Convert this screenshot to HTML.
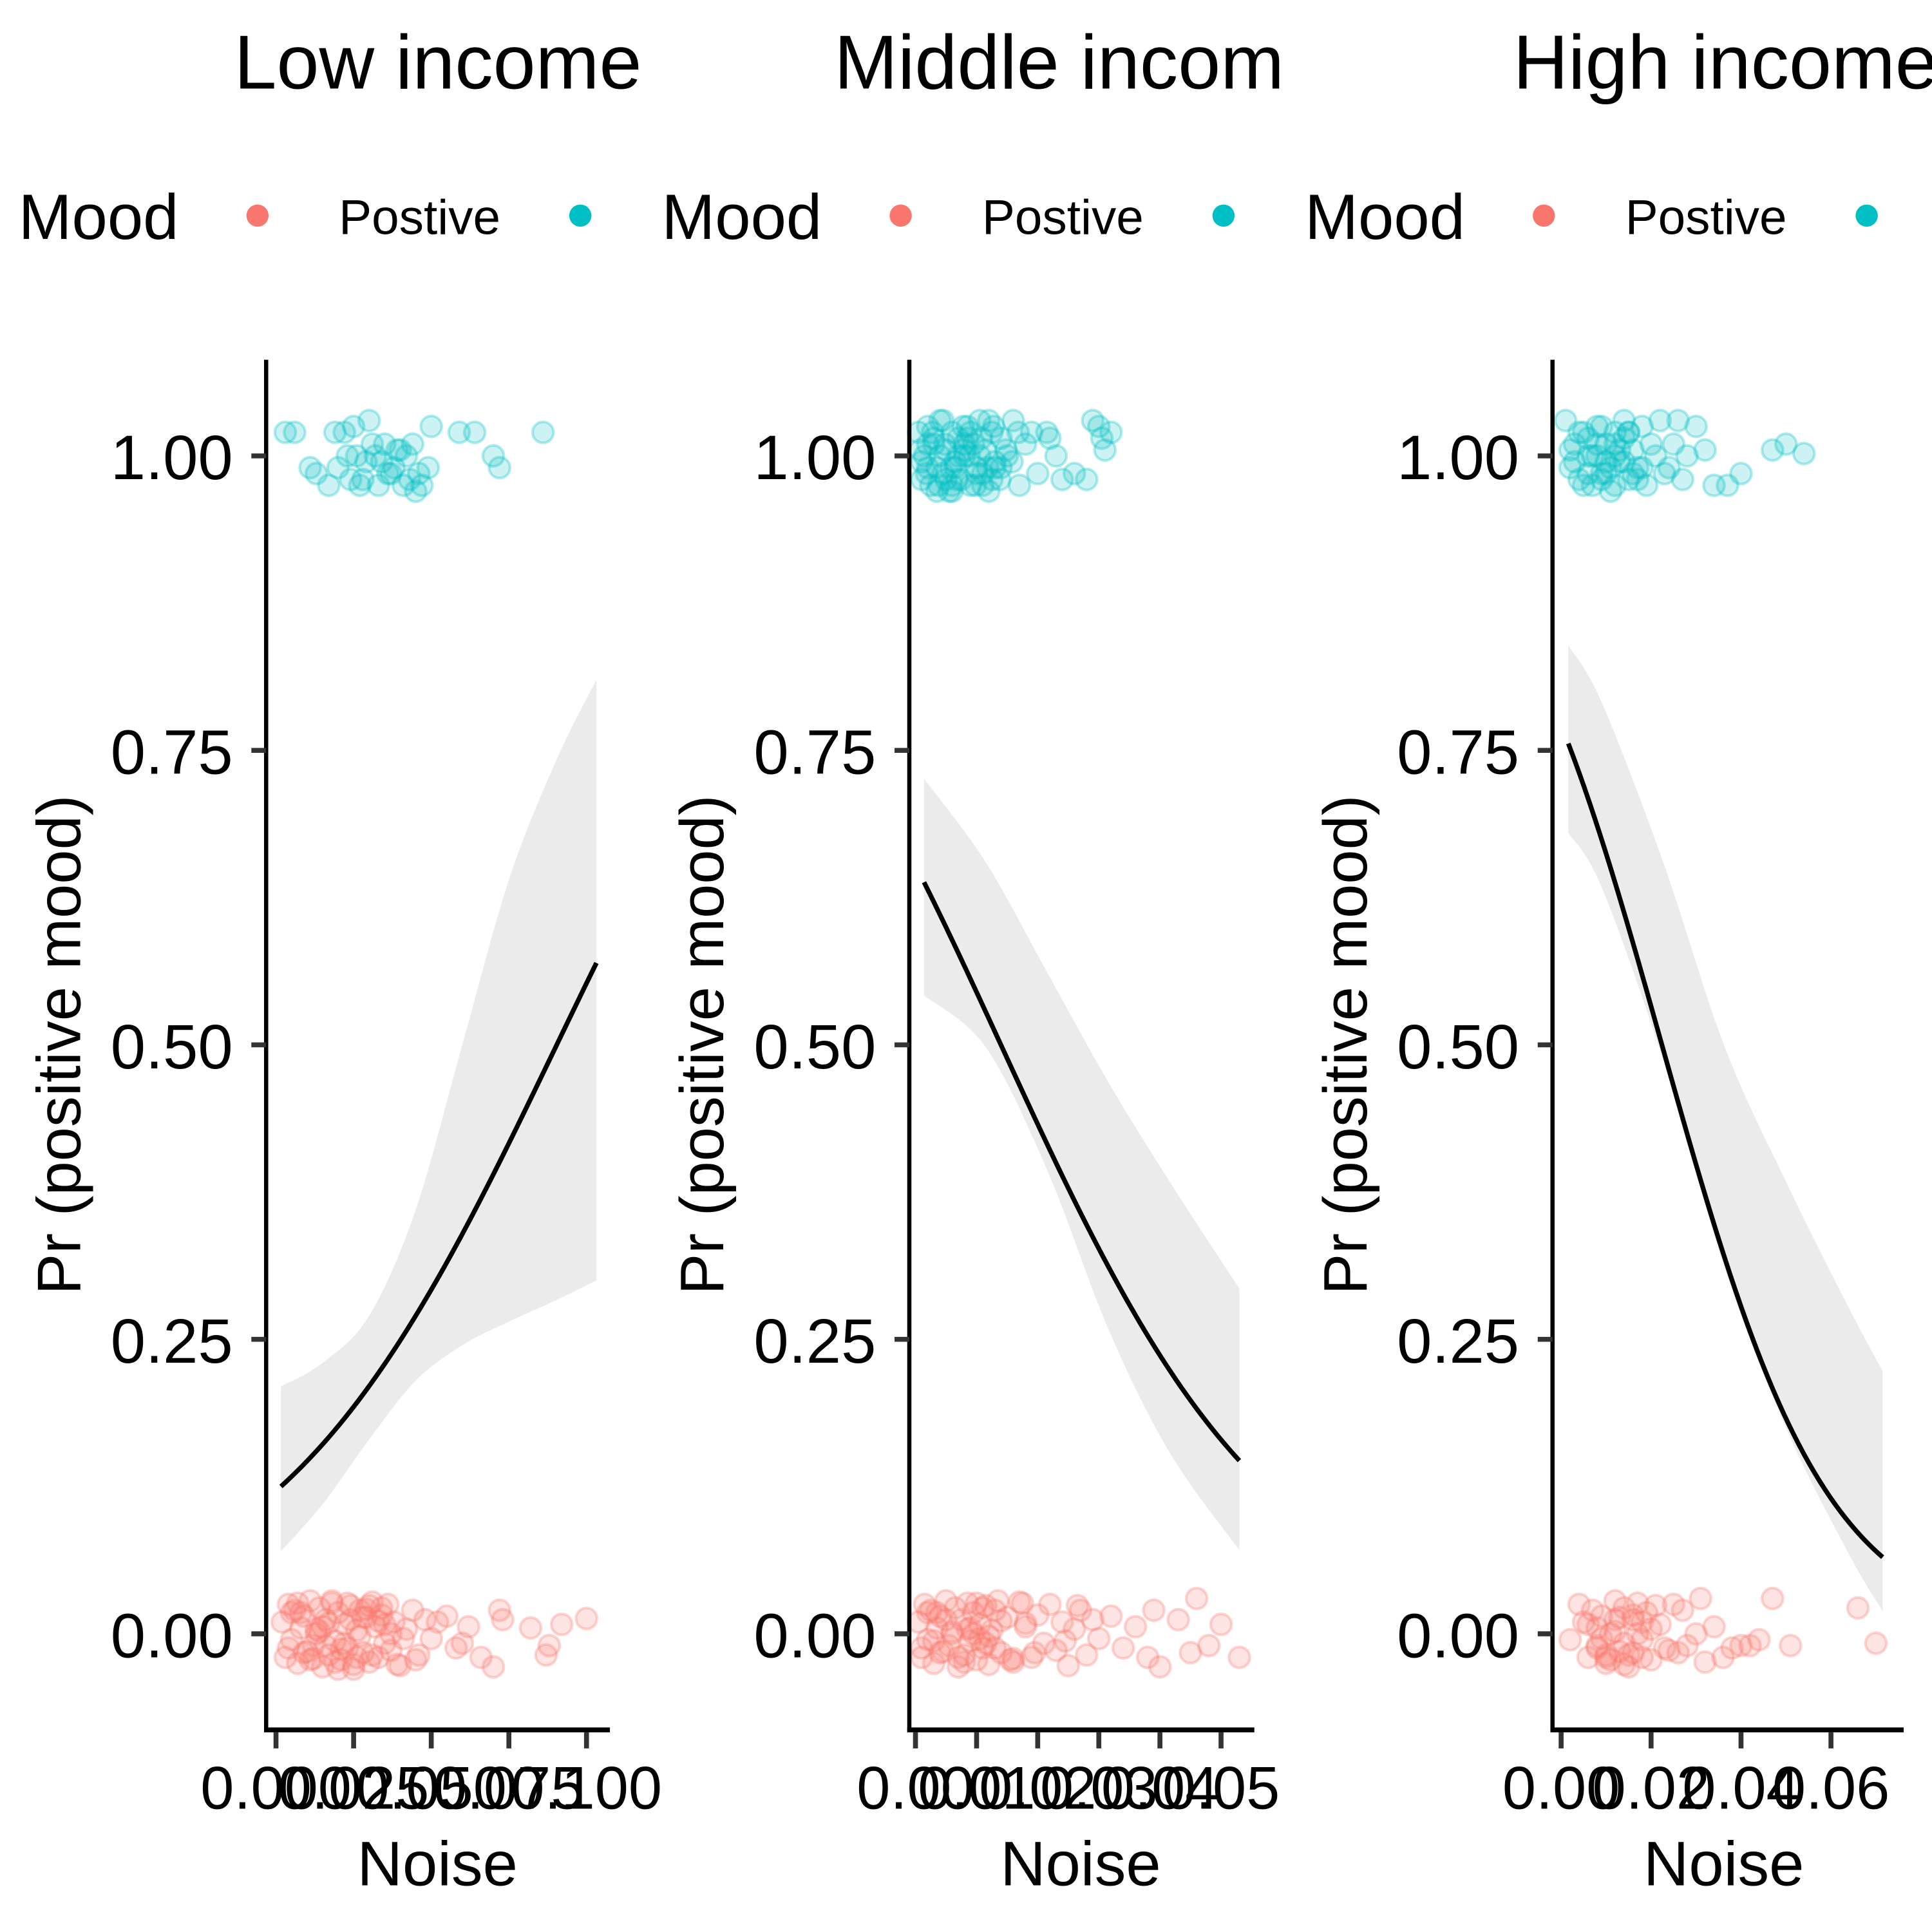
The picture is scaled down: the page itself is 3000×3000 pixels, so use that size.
<!DOCTYPE html>
<html><head><meta charset="utf-8">
<style>
html,body{margin:0;padding:0;background:#fff;}
svg{display:block;}
text{font-family:"Liberation Sans",Arial,sans-serif;}
</style></head>
<body>
<svg id="chart" width="3000" height="3000" viewBox="0 0 1568 1568" xmlns="http://www.w3.org/2000/svg"></svg>
<script>
// ---- data ----
const panelTitles = ["Low income", "Middle incom", "High income"];
const yTicks = [0, 0.25, 0.5, 0.75, 1.0];
const yTickLabels = ["0.00", "0.25", "0.50", "0.75", "1.00"];
const p1XTicks = [0, 0.025, 0.05, 0.075, 0.1];
const p1XTickLabels = ["0.000", "0.025", "0.050", "0.075", "0.100"];
const p2XTicks = [0, 0.01, 0.02, 0.03, 0.04, 0.05];
const p2XTickLabels = ["0.00", "0.01", "0.02", "0.03", "0.04", "0.05"];
const p3XTicks = [0, 0.02, 0.04, 0.06];
const p3XTickLabels = ["0.00", "0.02", "0.04", "0.06"];

// fitted logistic coefficients (intercept, slope) and range
const fitIntercept = [-1.98, 0.63, 1.217];
const fitSlope = [21.9, -45.06, -54.3];
const fitXMin = [0.0016, 0.0014, 0.0016];
const fitXMax = [0.1032, 0.053, 0.0715];

// confidence ribbons
const p1RibX = [0.0016, 0.015, 0.03, 0.045, 0.06, 0.075, 0.09, 0.1032];
const p1RibHi = [0.21, 0.23, 0.27, 0.36, 0.5, 0.64, 0.74, 0.81];
const p1RibLo = [0.07, 0.11, 0.165, 0.215, 0.245, 0.265, 0.283, 0.30];
const p2RibX = [0.0014, 0.0115, 0.0216, 0.0317, 0.0417, 0.053];
const p2RibHi = [0.726, 0.655, 0.561, 0.467, 0.383, 0.293];
const p2RibLo = [0.542, 0.498, 0.393, 0.257, 0.153, 0.071];
const p3RibX = [0.0016, 0.009, 0.0227, 0.0364, 0.0501, 0.0638, 0.0715];
const p3RibHi = [0.839, 0.791, 0.655, 0.498, 0.383, 0.278, 0.223];
const p3RibLo = [0.68, 0.634, 0.487, 0.31, 0.174, 0.069, 0.019];

// jittered points
const p1CyanX = [0.003,0.006,0.011,0.013,0.017,0.02,0.022,0.024,0.025,0.027,0.029,0.03,0.032,0.033,0.035,0.036,0.038,0.039,0.041,0.042,0.044,0.046,0.047,0.049,0.05,0.059,0.064,0.07,0.072,0.086,0.019,0.023,0.028,0.031,0.034,0.037,0.04,0.043,0.045,0.026];
const p1CyanY = [1.02,1.02,0.99,0.985,0.975,0.99,1.02,0.98,1.025,0.975,0.995,1.03,1.0,0.975,1.01,0.985,0.99,1.005,0.975,1.0,1.01,0.985,0.975,0.99,1.025,1.02,1.02,1.0,0.99,1.02,1.02,1.0,0.98,1.01,0.995,0.985,1.005,0.98,0.97,1.0];
const p1RedX = [0.002,0.003,0.004,0.005,0.006,0.007,0.008,0.009,0.01,0.011,0.012,0.013,0.014,0.015,0.016,0.017,0.018,0.019,0.02,0.021,0.022,0.023,0.024,0.025,0.026,0.027,0.028,0.029,0.03,0.031,0.032,0.033,0.034,0.035,0.036,0.037,0.038,0.04,0.042,0.044,0.046,0.048,0.05,0.055,0.058,0.062,0.066,0.07,0.073,0.082,0.088,0.092,0.1,0.005,0.009,0.014,0.019,0.023,0.027,0.033,0.012,0.017,0.021,0.029,0.004,0.008,0.011,0.015,0.018,0.022,0.025,0.028,0.031,0.034,0.037,0.039,0.007,0.013,0.016,0.02,0.024,0.026,0.03,0.035,0.041,0.045,0.052,0.06,0.072,0.087];
const p1RedY = [0.01,-0.02,0.025,-0.005,0.02,-0.025,0.005,0.015,-0.015,0.028,-0.01,0.0,0.022,-0.028,0.012,-0.018,0.026,-0.006,0.018,-0.022,0.008,-0.012,0.024,-0.026,0.003,0.02,-0.016,0.014,-0.024,0.027,0.006,-0.02,0.016,-0.008,0.025,-0.014,0.01,-0.027,0.004,0.02,-0.018,0.012,-0.004,0.015,-0.012,0.006,-0.02,-0.028,0.012,0.005,-0.01,0.008,0.013,0.018,-0.016,0.002,-0.024,0.026,-0.002,0.011,-0.021,0.009,-0.013,0.021,-0.012,0.018,-0.022,0.006,0.028,-0.008,-0.03,0.014,-0.018,0.022,0.0,-0.026,0.026,0.004,-0.01,-0.03,0.012,-0.02,0.024,0.008,-0.004,-0.022,0.01,-0.008,0.02,-0.018];

const p2CyanX = [0.0005,0.001,0.0015,0.002,0.0025,0.003,0.0035,0.004,0.0045,0.005,0.0055,0.006,0.0065,0.007,0.0075,0.008,0.0085,0.009,0.0095,0.01,0.0105,0.011,0.0115,0.012,0.0125,0.013,0.014,0.015,0.016,0.017,0.018,0.019,0.02,0.022,0.024,0.026,0.028,0.03,0.031,0.032,0.001,0.003,0.005,0.007,0.009,0.011,0.013,0.002,0.006,0.008,0.0008,0.0018,0.0028,0.0038,0.0048,0.0058,0.0068,0.0078,0.0088,0.0098,0.0108,0.0118,0.0128,0.0138,0.0148,0.0158,0.0168,0.004,0.006,0.008,0.01,0.012,0.014,0.002,0.0045,0.0065,0.0085,0.0105,0.0125,0.0035,0.0215,0.023,0.0305,0.029];
const p2CyanY = [1.02,0.98,1.0,1.025,0.975,1.01,0.99,1.03,0.985,1.005,0.97,1.02,0.995,1.015,0.98,1.0,1.025,0.975,1.01,0.99,1.03,0.985,1.005,0.97,1.02,0.995,1.015,1.0,1.03,0.975,1.01,1.02,0.985,1.015,0.98,0.985,0.98,1.025,1.005,1.02,0.995,1.015,0.98,1.0,1.02,0.975,0.99,1.01,0.97,1.005,1.005,0.985,1.02,0.975,1.01,0.99,0.98,1.025,1.0,0.975,1.015,0.99,1.025,0.98,1.005,0.995,1.02,1.0,0.975,1.01,0.985,1.03,0.99,0.99,1.03,0.99,1.015,1.0,0.98,0.97,1.02,1.0,1.015,1.03];
const p2RedX = [0.0005,0.001,0.0015,0.002,0.0025,0.003,0.0035,0.004,0.0045,0.005,0.0055,0.006,0.0065,0.007,0.0075,0.008,0.0085,0.009,0.0095,0.01,0.0105,0.011,0.0115,0.012,0.0125,0.013,0.014,0.015,0.016,0.017,0.018,0.019,0.02,0.021,0.022,0.023,0.024,0.025,0.026,0.027,0.028,0.029,0.03,0.032,0.034,0.036,0.038,0.04,0.043,0.046,0.048,0.05,0.053,0.002,0.004,0.006,0.008,0.01,0.012,0.014,0.016,0.018,0.003,0.005,0.007,0.009,0.011,0.013,0.0095,0.0105,0.0085,0.0115,0.001,0.0035,0.0135,0.0155,0.0175,0.0195,0.0245,0.0265,0.039,0.045];
const p2RedY = [0.01,-0.02,0.025,-0.005,0.02,-0.025,0.005,0.015,-0.015,0.028,-0.01,0.0,0.022,-0.028,0.012,-0.018,0.026,-0.006,0.018,-0.022,0.008,-0.012,0.024,-0.026,0.003,0.02,-0.016,0.014,-0.024,0.027,0.006,-0.02,0.016,-0.008,0.025,-0.014,0.01,-0.027,0.004,0.02,-0.018,0.012,-0.004,0.015,-0.012,0.006,-0.02,-0.028,0.012,0.03,-0.01,0.008,-0.02,0.018,-0.016,0.002,-0.024,0.026,-0.002,0.011,-0.021,0.009,-0.006,0.012,-0.02,0.005,0.022,-0.012,0.0,-0.004,0.004,-0.008,-0.012,0.018,0.028,-0.022,0.026,-0.016,-0.006,0.024,0.02,-0.016];

const p3CyanX = [0.001,0.002,0.003,0.004,0.005,0.006,0.007,0.008,0.009,0.01,0.011,0.012,0.013,0.014,0.015,0.016,0.017,0.018,0.019,0.02,0.021,0.022,0.023,0.024,0.025,0.026,0.027,0.028,0.03,0.032,0.034,0.037,0.04,0.047,0.05,0.054,0.003,0.006,0.009,0.012,0.015,0.018,0.002,0.004,0.006,0.008,0.01,0.012,0.014,0.016,0.005,0.007,0.009,0.011,0.013,0.015,0.017,0.008,0.01,0.012,0.014];
const p3CyanY = [1.03,0.99,1.01,0.98,1.02,1.0,0.975,1.025,0.985,1.01,0.97,1.02,0.995,1.03,0.98,1.005,0.99,1.025,0.975,1.01,1.0,1.03,0.985,0.99,1.01,1.03,0.98,1.0,1.025,1.005,0.975,0.975,0.985,1.005,1.01,1.002,0.995,1.015,0.98,1.0,1.02,0.99,1.005,1.02,0.985,1.01,0.995,0.975,1.015,0.985,0.975,1.0,1.025,0.99,1.005,1.02,0.98,1.0,0.985,1.01,0.995];
const p3RedX = [0.002,0.004,0.005,0.006,0.007,0.008,0.009,0.01,0.011,0.012,0.013,0.014,0.015,0.016,0.017,0.018,0.019,0.02,0.021,0.022,0.023,0.025,0.026,0.027,0.028,0.03,0.031,0.032,0.034,0.036,0.038,0.04,0.042,0.044,0.047,0.051,0.066,0.07,0.008,0.01,0.012,0.014,0.016,0.018,0.02,0.024,0.006,0.008,0.01,0.012,0.014,0.016,0.018,0.009,0.011,0.013,0.015,0.017];
const p3RedY = [-0.005,0.025,0.01,-0.02,0.02,-0.01,0.015,-0.025,0.0,0.028,-0.015,0.022,-0.028,0.012,0.026,-0.005,0.018,-0.022,0.024,0.008,-0.012,0.025,-0.016,0.02,-0.01,0.0,0.03,-0.024,0.006,-0.02,-0.012,-0.01,-0.01,-0.005,0.03,-0.01,0.022,-0.008,0.005,-0.018,0.012,-0.026,0.016,-0.02,0.004,-0.014,0.008,-0.012,-0.02,0.002,-0.008,-0.016,0.01,-0.004,-0.022,0.014,-0.018,0.0];

// ---- layout (preview units; viewBox 1568) ----
const svg = document.getElementById('chart');
const NS = 'http://www.w3.org/2000/svg';
const yPix = v => 1326 - (v) * 956;
const titleX = [190, 677, 1228];
const panels = [
  {ox:0, x0:224, k:2520, axEnd:495, ticks:p1XTicks, labels:p1XTickLabels, ribX:p1RibX, hi:p1RibHi, lo:p1RibLo, cx:p1CyanX, cy:p1CyanY, rx:p1RedX, ry:p1RedY},
  {ox:522, x0:743, k:4960, axEnd:1018, ticks:p2XTicks, labels:p2XTickLabels, ribX:p2RibX, hi:p2RibHi, lo:p2RibLo, cx:p2CyanX, cy:p2CyanY, rx:p2RedX, ry:p2RedY},
  {ox:1044, x0:1267, k:3650, axEnd:1545, ticks:p3XTicks, labels:p3XTickLabels, ribX:p3RibX, hi:p3RibHi, lo:p3RibLo, cx:p3CyanX, cy:p3CyanY, rx:p3RedX, ry:p3RedY}
];
function mk(tag, attrs, parent){
  const e = document.createElementNS(NS, tag);
  for (const k in attrs) e.setAttribute(k, attrs[k]);
  (parent||svg).appendChild(e);
  return e;
}
function smoothPath(pts){
  let d = 'M' + pts[0][0] + ',' + pts[0][1];
  for (let i=0;i<pts.length-1;i++){
    const p0 = pts[i-1]||pts[i], p1 = pts[i], p2 = pts[i+1], p3 = pts[i+2]||p2;
    const c1 = [p1[0]+(p2[0]-p0[0])/6, p1[1]+(p2[1]-p0[1])/6];
    const c2 = [p2[0]-(p3[0]-p1[0])/6, p2[1]-(p3[1]-p1[1])/6];
    d += ' C'+c1[0]+','+c1[1]+' '+c2[0]+','+c2[1]+' '+p2[0]+','+p2[1];
  }
  return d;
}

panels.forEach((P, pi) => {
  const g = mk('g', {});
  
  
  const xPix = v => P.x0 + v * P.k;
  const axX = P.ox + 216;

  const t = mk('text', {x: titleX[pi], y: 72, 'font-size': 62, fill: '#000'}, g);
  t.textContent = panelTitles[pi];
  
  

  const lg = mk('g', {}, g);
  
  
  const lt = mk('text', {x: P.ox + 15, y: 194, 'font-size': 52, fill: '#000'}, lg);
  lt.textContent = 'Mood';
  
  
  const d1 = mk('circle', {cx: P.ox + 209, cy: 175, r: 9, fill: '#F8766D'}, lg);
  
  
  const l1 = mk('text', {x: P.ox + 275, y: 190, 'font-size': 40, fill: '#000'}, lg);
  l1.textContent = 'Postive';
  
  
  const d2 = mk('circle', {cx: P.ox + 471, cy: 175, r: 9, fill: '#00BFC4'}, lg);
  
  

  const up = P.ribX.map((x,i)=>[xPix(x), yPix(P.hi[i])]);
  const dn = P.ribX.map((x,i)=>[xPix(x), yPix(P.lo[i])]).reverse();
  let rd = smoothPath(up) + ' L' + dn[0][0] + ',' + dn[0][1] + smoothPath(dn).replace(/^M[^C]*/, ' ') + ' Z';
  const rib = mk('path', {d: rd, fill: '#EBEBEB', stroke: 'none'}, g);
  
  

  const drawPts = (xs, ys, col, nm) => {
    const n = Math.min(xs.length, ys.length);
    for (let i=0;i<n;i++){
      const c = mk('circle', {cx: xPix(xs[i]), cy: yPix(ys[i]), r: 8.5, fill: col, 'fill-opacity': 0.2, stroke: col, 'stroke-opacity': 0.3, 'stroke-width': 2.2}, g);
      
      
    }
  };
  drawPts(P.cx, P.cy, '#00BFC4', 'point-positive-mood');
  drawPts(P.rx, P.ry, '#F8766D', 'point-negative-mood');

  const pts = [];
  for (let i=0;i<=60;i++){
    const x = fitXMin[pi] + (fitXMax[pi]-fitXMin[pi])*i/60;
    const p = 1/(1+Math.exp(-(fitIntercept[pi] + fitSlope[pi]*x)));
    pts.push(xPix(x).toFixed(2)+','+yPix(p).toFixed(2));
  }
  const ln = mk('polyline', {points: pts.join(' '), fill: 'none', stroke: '#000', 'stroke-width': 3.8}, g);
  
  

  const ya = mk('line', {x1: axX, y1: 292, x2: axX, y2: 1405, stroke: '#000', 'stroke-width': 3.4}, g);
  
  
  const xa = mk('line', {x1: axX - 1.7, y1: 1404, x2: P.axEnd, y2: 1404, stroke: '#000', 'stroke-width': 4}, g);
  
  

  yTicks.forEach((v,i)=>{
    const tk = mk('line', {x1: axX - 12, y1: yPix(v), x2: axX, y2: yPix(v), stroke: '#333', 'stroke-width': 4}, g);
    
    
    const tl = mk('text', {x: axX - 27, y: yPix(v) + 19, 'font-size': 51, 'text-anchor': 'end', fill: '#000'}, g);
    tl.textContent = yTickLabels[i];
    
    
  });
  P.ticks.forEach((v,i)=>{
    const tk = mk('line', {x1: xPix(v), y1: 1406, x2: xPix(v), y2: 1419, stroke: '#333', 'stroke-width': 4}, g);
    
    
    const tl = mk('text', {x: xPix(v), y: 1468, 'font-size': 49, 'text-anchor': 'middle', fill: '#000'}, g);
    tl.textContent = P.labels[i];
    
    
  });

  const xt = mk('text', {x: P.ox + 355, y: 1530, 'font-size': 51, 'text-anchor': 'middle', fill: '#000'}, g);
  xt.textContent = 'Noise';
  
  
  const yt = mk('text', {x: 0, y: 0, 'font-size': 50, 'text-anchor': 'middle', fill: '#000', transform: 'translate(' + (P.ox + 65) + ',848) rotate(-90)'}, g);
  yt.textContent = 'Pr (positive mood)';
  
  
});
</script>
</body></html>
